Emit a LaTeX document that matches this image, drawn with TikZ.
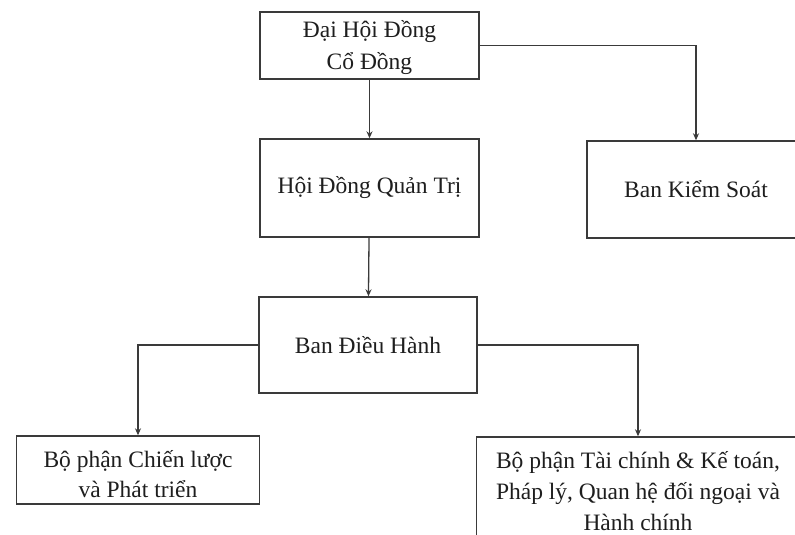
\documentclass[tikz,border=0pt]{standalone}
\usepackage{fontspec}
\setmainfont{Liberation Serif}
\usetikzlibrary{arrows.meta}
\definecolor{ink}{HTML}{3A3A3A}
\definecolor{txt}{HTML}{1E1E1E}
\tikzset{
  orgbox/.style={draw=ink, line width=1.4pt, fill=white, rectangle, inner sep=0pt,
    align=center, text=txt, font=\fontsize{23.5}{31}\selectfont},
  link/.style={draw=ink, line width=1.3pt, -{Stealth[length=7pt,width=6pt]}}
}
\begin{document}
\begin{tikzpicture}[x=1pt,y=-1pt]
\useasboundingbox (0,0) rectangle (795,535);
\clip (0,0) rectangle (795,535);
\node[orgbox, minimum width=219pt, minimum height=67pt] (dhdcd) at (369.5,45.5) {};
\node[align=center, text=txt, font=\fontsize{23.5}{32}\selectfont] (dhdcdtxt) at (369.5,48) {Đại Hội Đồng\\Cổ Đồng};
\node[orgbox, minimum width=219pt, minimum height=98pt] (hdqt) at (369.5,188) {Hội Đồng Quản Trị};
\node[orgbox, minimum width=218pt, minimum height=97pt] (bks) at (696,189.5) {Ban Kiểm Soát};
\node[orgbox, minimum width=218pt, minimum height=96pt] (bdh) at (368,345) {Ban Điều Hành};
\node[orgbox, minimum width=243pt, minimum height=68pt] (bpcl) at (138,470) {};
\node[align=center, text=txt, font=\fontsize{23.5}{30}\selectfont] (bpcltxt) at (138,474) {Bộ phận Chiến lược\\và Phát triển};
\node[orgbox, minimum width=323pt, minimum height=108pt] (bptc) at (638,491) {Bộ phận Tài chính \& Kế toán,\\Pháp lý, Quan hệ đối ngoại và\\Hành chính};
\draw[link] (dhdcd) -- (hdqt);
\draw[link] (dhdcd.east) -| (bks.north);
\draw[link] (hdqt) -- (bdh);
\draw[link] (bdh.west) -| (bpcl.north);
\draw[link] (bdh.east) -| (bptc.north);
\end{tikzpicture}
\end{document}
